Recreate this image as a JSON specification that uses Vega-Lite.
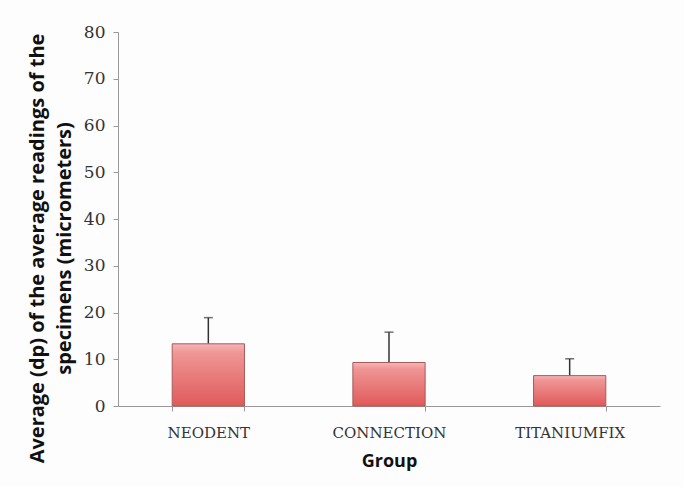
{
  "$schema": "https://vega.github.io/schema/vega-lite/v6.json",
  "autosize": "none",
  "width": 542,
  "height": 374,
  "padding": {"left": 118, "top": 32, "right": 24, "bottom": 81},
  "background": "#fdfdfd",
  "config": {"view": {"stroke": null}},
  "data": {"values": [
    {"group": "NEODENT", "mean": 13.3, "upper": 18.9},
    {"group": "CONNECTION", "mean": 9.3, "upper": 15.8},
    {"group": "TITANIUMFIX", "mean": 6.5, "upper": 10.1}
  ]},
  "encoding": {
    "x": {"field": "group", "type": "nominal", "sort": null,
      "scale": {"paddingInner": 0.6, "paddingOuter": 0.3},
      "axis": {"title": "Group", "labelAngle": 0, "tickBand": "extent",
        "labelFont": "DejaVu Serif", "labelFontSize": 15, "labelColor": "#333333", "labelPadding": 14,
        "titleFont": "Open Sans", "titleFontWeight": "bold", "titleFontSize": 18, "titleColor": "#111111", "titlePadding": 12,
        "domainColor": "#999999", "tickColor": "#999999", "tickSize": 5}}
  },
  "layer": [
    {"mark": {"type": "rule", "color": "#333333", "strokeWidth": 1.5},
     "encoding": {"y": {"field": "mean", "type": "quantitative"}, "y2": {"field": "upper"}}},
    {"mark": {"type": "tick", "color": "#333333", "orient": "horizontal", "size": 9, "thickness": 1.5},
     "encoding": {"y": {"field": "upper", "type": "quantitative"}}},
    {"mark": {"type": "bar", "stroke": "#a85a5a", "strokeWidth": 1,
      "fill": {"gradient": "linear", "x1": 0, "y1": 0, "x2": 0, "y2": 1,
        "stops": [{"offset": 0, "color": "#f7b5b5"}, {"offset": 0.15, "color": "#ef9595"}, {"offset": 1, "color": "#e05a5a"}]}},
     "encoding": {"y": {"field": "mean", "type": "quantitative",
       "scale": {"domain": [0, 80]},
       "axis": {"title": ["Average (dp) of the average readings of the", "specimens (micrometers)"],
         "values": [0, 10, 20, 30, 40, 50, 60, 70, 80], "grid": false,
         "labelFont": "DejaVu Serif", "labelFontSize": 17, "labelColor": "#333333", "labelPadding": 8,
         "titleFont": "Open Sans", "titleFontWeight": "bold", "titleFontSize": 20, "titleColor": "#111111",
         "titlePadding": 9, "titleY": 216, "titleLineHeight": 27,
         "domainColor": "#999999", "tickColor": "#999999", "tickSize": 5}}}}
  ]
}
